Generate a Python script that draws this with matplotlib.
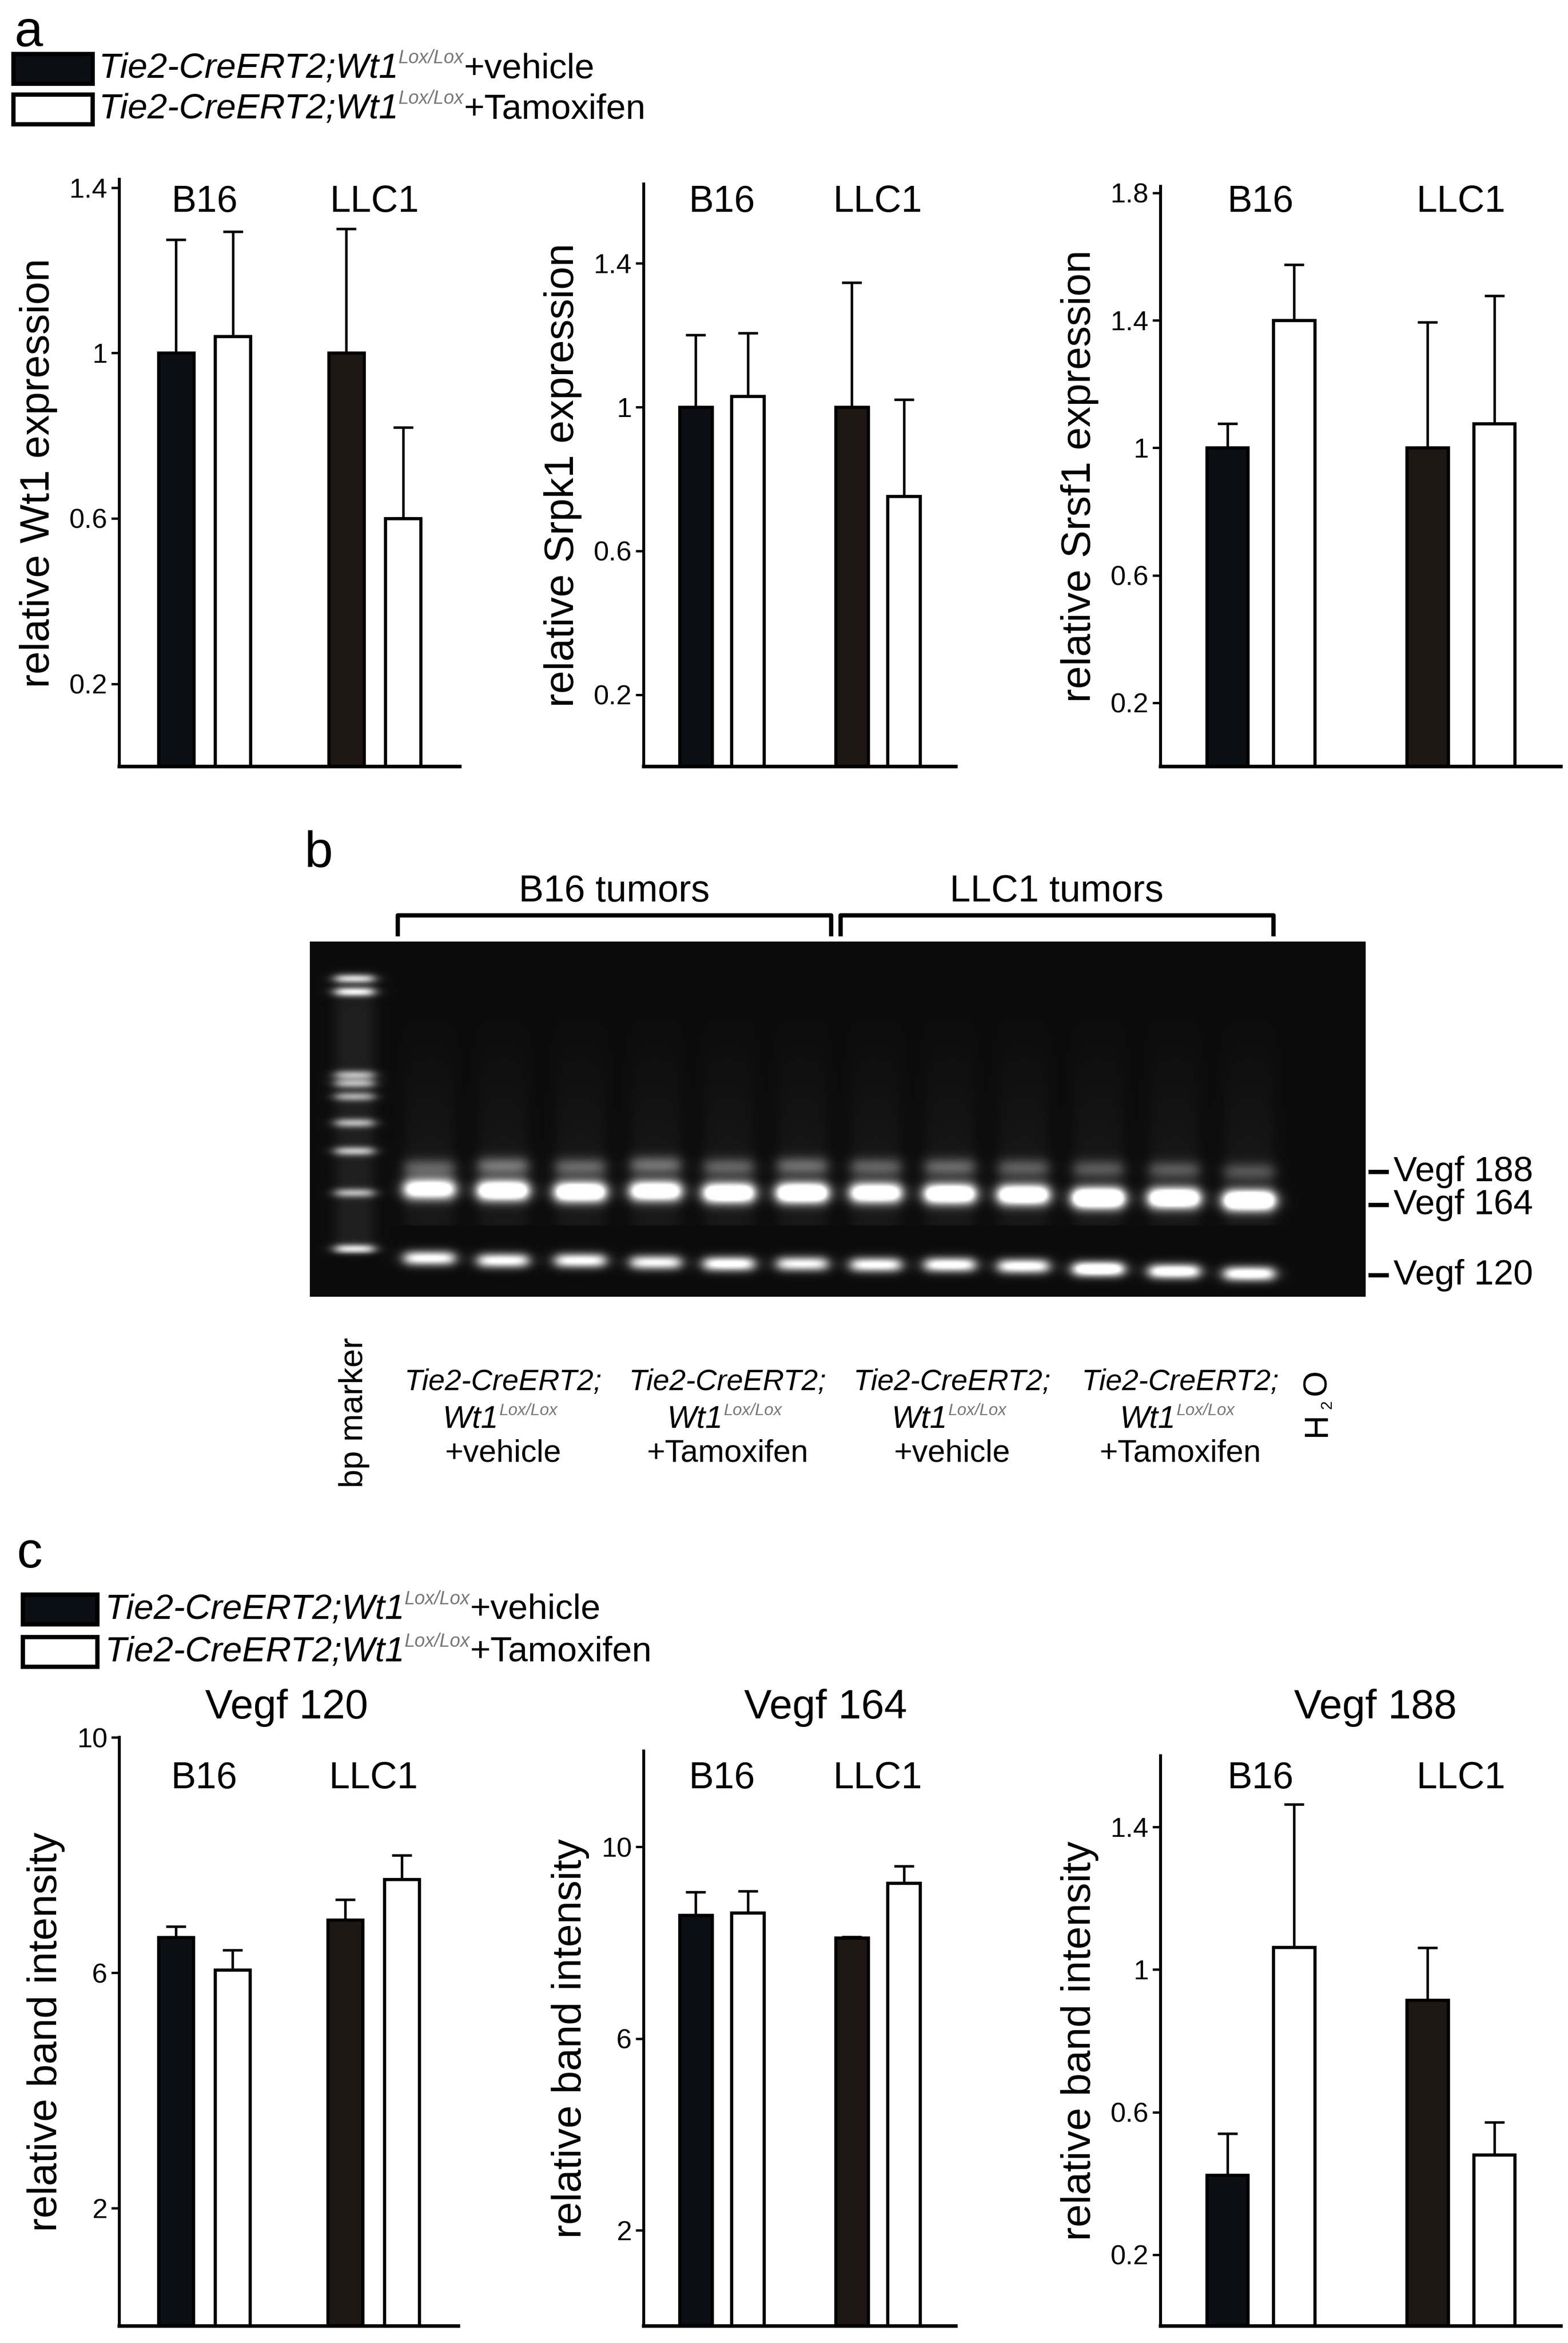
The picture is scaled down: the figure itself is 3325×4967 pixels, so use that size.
import numpy as np
import matplotlib
matplotlib.use("Agg")
import matplotlib.pyplot as plt
from matplotlib import font_manager as fm

W, H = 3325, 4967
names = {f.name for f in fm.fontManager.ttflist}
NARROW = ['Liberation Sans Narrow', 'Liberation Sans', 'DejaVu Sans'] if 'Liberation Sans Narrow' in names else ['Liberation Sans', 'DejaVu Sans']
REG = ['Liberation Sans', 'DejaVu Sans']
plt.rcParams['font.family'] = REG

# ---------------- data ----------------
groups = ["B16", "LLC1"]
legend_labels = ["+vehicle", "+Tamoxifen"]
# panel a
wt1_mean = [1.0, 1.04, 1.0, 0.60]
wt1_top = [1.274, 1.293, 1.30, 0.82]
srpk1_mean = [1.0, 1.03, 1.0, 0.752]
srpk1_top = [1.20, 1.206, 1.346, 1.021]
srsf1_mean = [1.0, 1.40, 1.0, 1.076]
srsf1_top = [1.076, 1.575, 1.394, 1.477]
# panel c
v120_mean = [6.6, 6.05, 6.9, 7.59]
v120_top = [6.79, 6.39, 7.24, 8.0]
v164_mean = [8.57, 8.62, 8.10, 9.24]
v164_top = [9.06, 9.08, 8.12, 9.6]
v188_mean = [0.423, 1.063, 0.915, 0.48]
v188_top = [0.54, 1.464, 1.061, 0.572]
# panel b gel (band y positions in image rows, intensities)
lane_x = [911, 1067, 1231, 1391, 1546, 1702, 1858, 2015, 2171, 2330, 2491, 2650]
band188_y = [2478, 2474, 2476, 2472, 2476, 2474, 2476, 2476, 2478, 2480, 2482, 2486]
band164_y = [2523, 2526, 2529, 2527, 2531, 2531, 2531, 2533, 2535, 2542, 2542, 2547]
band120_y = [2670, 2675, 2675, 2679, 2682, 2682, 2684, 2684, 2687, 2693, 2698, 2703]
band188_i = [0.30, 0.38, 0.32, 0.36, 0.30, 0.34, 0.30, 0.32, 0.28, 0.26, 0.26, 0.24]
band164_i = [1.3, 1.5, 1.5, 1.4, 1.5, 1.6, 1.4, 1.5, 1.5, 1.8, 1.6, 1.7]
band120_i = [1.0, 1.0, 1.0, 0.95, 1.05, 0.95, 1.0, 1.05, 1.05, 1.3, 1.15, 1.1]
marker_x = 752
marker_y = [2075, 2103, 2280, 2298, 2326, 2382, 2442, 2531, 2650]
marker_i = [0.8, 0.9, 0.6, 0.6, 0.55, 0.6, 0.65, 0.6, 0.8]
lane_bottom = ["+vehicle", "+Tamoxifen", "+vehicle", "+Tamoxifen"]

fig = plt.figure(figsize=(W / 300, H / 300), dpi=300)
fig.patch.set_facecolor('white')
renderer = fig.canvas.get_renderer()

def fx(x):
    return x / W
def fy(y):
    return 1 - y / H

def ax_px(x0, y0, x1, y1):
    return fig.add_axes([fx(x0), fy(y1), (x1 - x0) / W, (y1 - y0) / H])

def bar_chart(rect, means, tops, ylim, ticks, ylabel, group_y):
    ax = ax_px(*rect)
    xs = [1, 2, 4, 5]
    cols = ['#0b0f13', 'white', '#1e1613', 'white']
    for x, m, t, c in zip(xs, means, tops, cols):
        ax.errorbar(x, m, yerr=[[0], [t - m]], fmt='none', ecolor='black',
                    elinewidth=1.3, capsize=5, capthick=1.3, zorder=1)
        ax.bar(x, m, width=0.62, color=c, edgecolor='black', linewidth=1.6, zorder=2)
    ax.set_xlim(0, 6)
    ax.set_ylim(*ylim)
    ax.set_yticks(ticks)
    ax.set_yticklabels([('%g' % t) for t in ticks], family=NARROW, fontsize=14)
    ax.set_xticks([])
    for s in ['top', 'right']:
        ax.spines[s].set_visible(False)
    ax.spines['left'].set_linewidth(1.5)
    ax.spines['bottom'].set_linewidth(1.8)
    ax.tick_params(axis='y', length=4, width=1.2, pad=2)
    ax.set_ylabel(ylabel, fontsize=21, labelpad=6)
    x0, x1 = rect[0], rect[2]
    for g, frac in zip(groups, [0.25, 0.75]):
        fig.text(fx(x0 + frac * (x1 - x0)), fy(group_y), g, ha='center', va='center',
                 family=NARROW, fontsize=19)
    return ax

def seq_text(x, y, parts):
    cx = x
    for txt, kw in parts:
        dy = kw.pop('dy', 0)
        t = fig.text(fx(cx), fy(y - dy), txt, va='center', ha='left', **kw)
        bb = t.get_window_extent(renderer=renderer)
        cx += bb.width * (W / fig.bbox.width)

def legend(y_rows, box_x0, box_x1, text_x):
    fills = ['#0b0f13', 'white']
    for (y0, y1), fc, lab in zip(y_rows, fills, legend_labels):
        fig.patches.append(plt.Rectangle((fx(box_x0), fy(y1)), (box_x1 - box_x0) / W, (y1 - y0) / H,
                                         transform=fig.transFigure, facecolor=fc,
                                         edgecolor='black', linewidth=2.2))
        yc = (y0 + y1) / 2
        seq_text(text_x, yc, [("Tie2-CreERT2;Wt1", dict(family=NARROW, style='italic', fontsize=18)),
                              ("Lox/Lox", dict(family=NARROW, style='italic', fontsize=9.5, color='#777777', dy=22)),
                              (lab, dict(family=NARROW, fontsize=18))])

# ---------------- panel a ----------------
fig.text(fx(30), fy(70), "a", fontsize=26, va='center', ha='left')
legend([(114, 177), (200, 263)], 28, 196, 209)
bar_chart((253, 380, 975, 1625), wt1_mean, wt1_top, (0, 1.42), [0.2, 0.6, 1, 1.4],
          "relative Wt1 expression", 428)
bar_chart((1365, 390, 2027, 1625), srpk1_mean, srpk1_top, (0, 1.62), [0.2, 0.6, 1, 1.4],
          "relative Srpk1 expression", 428)
bar_chart((2461, 395, 3310, 1625), srsf1_mean, srsf1_top, (0, 1.82), [0.2, 0.6, 1, 1.4, 1.8],
          "relative Srsf1 expression", 428)

# ---------------- panel b ----------------
fig.text(fx(645), fy(1810), "b", fontsize=26, va='center', ha='left')
gx0, gx1, gy0, gy1 = 657, 2896, 1996, 2749
gax = ax_px(gx0, gy0, gx1, gy1)
sc = 4
xs = np.arange(gx0, gx1, sc) + sc / 2
ys = np.arange(gy0, gy1, sc) + sc / 2
X, Y = np.meshgrid(xs, ys)
img = np.full(X.shape, 0.045)

def lane_profile(xc, half):
    return 1 / (1 + np.exp((np.abs(X - xc) - half) / 8.0))

def band(yc, sig):
    return np.exp(-0.5 * ((Y - yc) / sig) ** 2)

for i, xc in enumerate(lane_x):
    lp = lane_profile(xc, 52)
    smear = 0.05 * np.clip((Y - 2150) / 350, 0, 1) * (Y < 2600)
    img += lp * (smear + band188_i[i] * band(band188_y[i], 14)
                 + band164_i[i] * band(band164_y[i], 15)
                 + band120_i[i] * band(band120_y[i], 11))
mp = lane_profile(marker_x, 40)
for yc, it in zip(marker_y, marker_i):
    img += mp * it * band(yc, 7)
img += mp * 0.08 * np.clip((Y - 2040) / 100, 0, 1) * (Y < 2660)
gax.imshow(np.clip(img, 0, 1), cmap='gray', vmin=0, vmax=1, aspect='auto',
           extent=(gx0, gx1, gy1, gy0), interpolation='bilinear')
gax.set_xlim(gx0, gx1)
gax.set_ylim(gy1, gy0)
gax.axis('off')

for (bx0, bx1), lab in zip([(843, 1762), (1782, 2700)], ["B16 tumors", "LLC1 tumors"]):
    fig.lines.append(plt.Line2D([fx(bx0), fx(bx0), fx(bx1), fx(bx1)], [fy(1980), fy(1940), fy(1940), fy(1980)],
                                transform=fig.transFigure, color='black', linewidth=2.2))
    fig.text(fx((bx0 + bx1) / 2), fy(1890), lab, ha='center', va='center', family=NARROW, fontsize=19)

for yb, lab in zip([2484, 2554, 2703], ["Vegf 188", "Vegf 164", "Vegf 120"]):
    fig.lines.append(plt.Line2D([fx(2906), fx(2940)], [fy(yb), fy(yb)], transform=fig.transFigure,
                                color='black', linewidth=2.2))
    fig.text(fx(2955), fy(yb), lab, ha='left', va='center', family=NARROW, fontsize=18)

for cx, bottom in zip([1067, 1543, 2019, 2503], lane_bottom):
    fig.text(fx(cx), fy(2930), "Tie2-CreERT2;", ha='center', va='center', family=NARROW,
             style='italic', fontsize=15)
    fig.text(fx(cx - 10), fy(3009), "Wt1", ha='right', va='center', family=NARROW,
             style='italic', fontsize=16)
    fig.text(fx(cx - 8), fy(2990), "Lox/Lox", ha='left', va='center', family=NARROW,
             style='italic', fontsize=8.5, color='#777777')
    fig.text(fx(cx), fy(3081), bottom, ha='center', va='center', family=NARROW, fontsize=16)
fig.text(fx(751), fy(2995), "bp marker", rotation=90, ha='center', va='center', fontsize=17)
fig.text(fx(2793), fy(3020), "H", rotation=90, ha='center', va='center', fontsize=17)
fig.text(fx(2815), fy(2978), "2", rotation=90, ha='center', va='center', fontsize=8)
fig.text(fx(2793), fy(2930), "O", rotation=90, ha='center', va='center', fontsize=17)

# ---------------- panel c ----------------
fig.text(fx(35), fy(3295), "c", fontsize=26, va='center', ha='left')
legend([(3380, 3443), (3470, 3533)], 48, 206, 222)
titles = ["Vegf 120", "Vegf 164", "Vegf 188"]
bar_chart((253, 3683, 972, 4931), v120_mean, v120_top, (0, 10), [2, 6, 10],
          "relative band intensity", 3770)
bar_chart((1365, 3712, 2027, 4931), v164_mean, v164_top, (0, 12), [2, 6, 10],
          "relative band intensity", 3770)
bar_chart((2461, 3722, 3310, 4931), v188_mean, v188_top, (0, 1.6), [0.2, 0.6, 1, 1.4],
          "relative band intensity", 3770)
for t, cx in zip(titles, [608, 1751, 2917]):
    fig.text(fx(cx), fy(3620), t, ha='center', va='center', family=NARROW, fontsize=21)

fig.savefig("out.png", dpi=300)
